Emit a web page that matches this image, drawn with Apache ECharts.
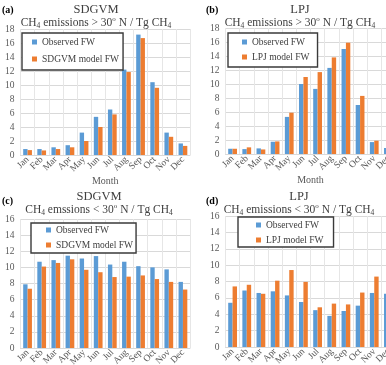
<!DOCTYPE html>
<html>
<head>
<meta charset="utf-8">
<script src="https://cdn.jsdelivr.net/npm/echarts@6/dist/echarts.min.js"></script>
<style>
  html, body { margin: 0; padding: 0; background: #fff; }
  #chart { width: 386px; height: 365px; }
</style>
</head>
<body>
<div id="chart"></div>
<script>
// months shared by all four panels
const months = ['Jan', 'Feb', 'Mar', 'Apr', 'May', 'Jun', 'Jul', 'Aug', 'Sep', 'Oct', 'Nov', 'Dec'];

// (a) SDGVM, > 30N
const sdgvmNorthObs = [0.85, 0.85, 1.1, 1.4, 3.2, 5.45, 6.5, 12.2, 17.2, 10.4, 3.2, 1.65];
const sdgvmNorthMod = [0.7, 0.65, 0.85, 1.1, 2.0, 4.0, 5.8, 11.85, 16.7, 9.6, 2.6, 1.3];
// (b) LPJ, > 30N
const lpjNorthObs = [0.75, 0.7, 0.8, 1.75, 5.3, 10.0, 9.3, 12.3, 15.0, 7.0, 1.7, 0.85];
const lpjNorthMod = [0.75, 0.95, 0.65, 1.8, 5.9, 11.0, 11.7, 13.8, 15.9, 8.3, 1.9, 1.0];
// (c) SDGVM, < 30N
const sdgvmSouthObs = [7.9, 10.7, 10.9, 11.45, 11.1, 11.4, 10.35, 10.7, 10.15, 10.0, 9.75, 8.2];
const sdgvmSouthMod = [7.35, 10.1, 10.55, 11.0, 9.7, 9.4, 8.8, 8.85, 9.0, 8.55, 8.2, 7.25];
// (d) LPJ, < 30N
const lpjSouthObs = [5.4, 6.9, 6.6, 6.8, 6.3, 5.5, 4.5, 3.8, 4.4, 5.05, 6.6, 6.5];
const lpjSouthMod = [7.4, 7.6, 6.5, 8.1, 9.4, 7.95, 4.85, 5.3, 5.2, 6.65, 8.6, 7.5];

const BLUE = '#5b9bd5';
const ORANGE = '#ed7d31';
const SERIF = '"Liberation Serif", "DejaVu Serif", serif';
const GRID_LINE = '#d9d9d9';

const panels = [
  { letter: '(a)', model: 'SDGVM', sub: 'CH{s|4} emissions > 30{p|o} N / Tg CH{s|4}', obs: sdgvmNorthObs, mod: sdgvmNorthMod,
    grid: { left: 20.5, top: 29, width: 169.5, height: 126 }, max: 18, month: true,
    titleX: 96, titleY: 3, letterX: 2, letterY: 5,
    legend: { left: 22, top: 33, padding: [3, 4, 5, 10], itemGap: 5 } },
  { letter: '(b)', model: 'LPJ', sub: 'CH{s|4} emissions > 30{p|o} N / Tg CH{s|4}', obs: lpjNorthObs, mod: lpjNorthMod,
    grid: { left: 225.5, top: 28, width: 170, height: 126 }, max: 18, month: true,
    titleX: 300, titleY: 3, letterX: 206, letterY: 5,
    legend: { left: 228, top: 33, padding: [3, 8, 4, 14], itemGap: 3 } },
  { letter: '(c)', model: 'SDGVM', sub: 'CH{s|4} emssions < 30{p|o} N / Tg CH{s|4}', obs: sdgvmSouthObs, mod: sdgvmSouthMod,
    grid: { left: 20.5, top: 219, width: 169.5, height: 129 }, max: 16, month: false,
    titleX: 99, titleY: 190, letterX: 2, letterY: 196,
    legend: { left: 31, top: 223, padding: [1, 3, 2, 15], itemGap: 3 } },
  { letter: '(d)', model: 'LPJ', sub: 'CH{s|4} emissions < 30{p|o} N / Tg CH{s|4}', obs: lpjSouthObs, mod: lpjSouthMod,
    grid: { left: 225.5, top: 216, width: 170, height: 131 }, max: 16, month: false,
    titleX: 299, titleY: 190, letterX: 206, letterY: 196,
    legend: { left: 238, top: 217, padding: [2, 10, 1, 18], itemGap: 3 } }
];

const chart = echarts.init(document.getElementById('chart'), null, { renderer: 'canvas' });

const subRich = {
  s: { fontSize: 7.5, fontFamily: SERIF, color: '#404040', verticalAlign: 'bottom', lineHeight: 14 },
  p: { fontSize: 7, fontFamily: SERIF, color: '#404040', verticalAlign: 'top', lineHeight: 14 }
};

const option = {
  backgroundColor: '#fff',
  animation: false,
  title: panels.map(p => ({
    text: p.model,
    subtext: p.sub,
    left: p.titleX,
    top: p.titleY,
    textAlign: 'center',
    padding: 0,
    itemGap: 0,
    textStyle: { fontFamily: SERIF, fontSize: 12.5, fontWeight: 'normal', color: '#404040', lineHeight: 13 },
    subtextStyle: { fontFamily: SERIF, fontSize: 11.5, color: '#404040', lineHeight: 14, rich: subRich }
  })),
  graphic: panels.map(p => ({
    type: 'text',
    left: p.letterX,
    top: p.letterY,
    style: { text: p.letter, font: 'bold 10px ' + SERIF, fill: '#000' }
  })),
  legend: panels.map(p => ({
    orient: 'vertical',
    left: p.legend.left,
    top: p.legend.top,
    padding: p.legend.padding,
    itemGap: p.legend.itemGap,
    itemWidth: 5,
    itemHeight: 5,
    icon: 'rect',
    borderColor: '#3a3a3a',
    borderWidth: 1.4,
    backgroundColor: '#fff',
    selectedMode: false,
    data: ['Observed FW', p.model + ' model FW'],
    textStyle: { fontFamily: SERIF, fontSize: 9.5, color: '#404040', lineHeight: 12 }
  })),
  // the right-hand panels run past the picture edge, as in the source figure
  grid: panels.map(p => Object.assign({ containLabel: false, outerBoundsMode: 'none' }, p.grid)),
  xAxis: panels.map((p, i) => ({
    type: 'category',
    gridIndex: i,
    data: months,
    name: p.month ? 'Month' : '',
    nameLocation: 'middle',
    nameGap: 17,
    nameTextStyle: { fontFamily: SERIF, fontSize: 10, color: '#595959', verticalAlign: 'top' },
    axisLine: { lineStyle: { color: GRID_LINE } },
    axisTick: { show: false },
    axisLabel: { interval: 0, rotate: 45, margin: 3, fontFamily: SERIF, fontSize: 9.5, color: '#595959' },
    splitLine: { show: true, interval: 0, lineStyle: { color: '#e6e6e6', width: 1 } }
  })),
  yAxis: panels.map((p, i) => ({
    type: 'value',
    gridIndex: i,
    min: 0,
    max: p.max,
    interval: 2,
    axisLine: { show: false },
    axisTick: { show: false },
    axisLabel: { margin: 6, fontFamily: SERIF, fontSize: 9.5, color: '#595959' },
    splitLine: { lineStyle: { color: GRID_LINE, width: 1 } }
  })),
  series: panels.flatMap((p, i) => [
    { name: 'Observed FW', type: 'bar', xAxisIndex: i, yAxisIndex: i, data: p.obs,
      itemStyle: { color: BLUE }, barGap: '0%', barCategoryGap: '38%' },
    { name: p.model + ' model FW', type: 'bar', xAxisIndex: i, yAxisIndex: i, data: p.mod,
      itemStyle: { color: ORANGE }, barGap: '0%', barCategoryGap: '38%' }
  ])
};

chart.setOption(option);
</script>
</body>
</html>
